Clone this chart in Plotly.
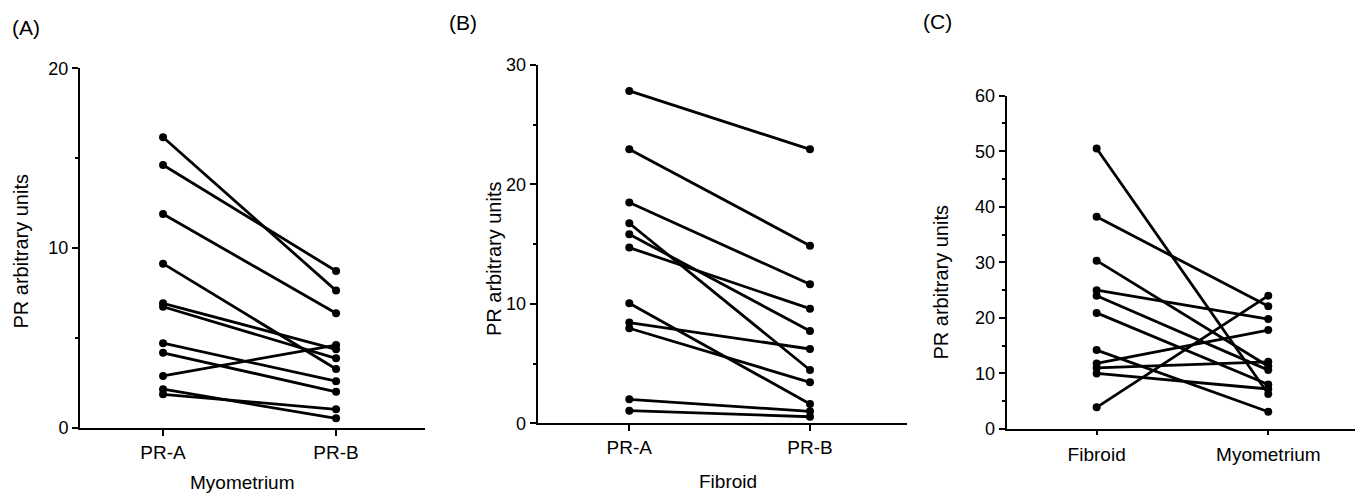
import plotly.graph_objects as go

# page body has an 8px margin; the figure is sized to fill the rest of the window
OFF = 8
W, H = 1364 - OFF, 495 - OFF

# ---------------- data ----------------
groups_a = ["PR-A", "PR-B"]
a_pra = [16.16, 14.62, 11.89, 9.13, 6.92, 6.73, 4.70, 4.17, 2.88, 2.14, 1.86]
a_prb = [7.63, 8.72, 6.37, 3.27, 4.36, 3.86, 2.59, 2.00, 4.60, 0.52, 1.02]

groups_b = ["PR-A", "PR-B"]
b_pra = [27.83, 22.94, 18.48, 16.75, 15.83, 14.71, 10.05, 8.43, 7.96, 2.01, 1.06]
b_prb = [22.94, 14.87, 11.64, 4.46, 7.73, 9.60, 1.62, 6.22, 3.43, 1.00, 0.55]

groups_c = ["Fibroid", "Myometrium"]
c_fibroid = [50.5, 38.2, 30.3, 25.0, 24.0, 20.9, 14.2, 11.8, 11.0, 10.0, 3.9]
c_myometrium = [6.3, 22.1, 11.3, 19.8, 10.6, 8.0, 3.1, 17.8, 12.1, 7.2, 24.0]

a_yticks = [0, 10, 20]
b_yticks = [0, 10, 20, 30]
c_yticks = [0, 10, 20, 30, 40, 50, 60]

y_title = "PR arbitrary units"
panel_letters = ["(A)", "(B)", "(C)"]
x_titles = ["Myometrium", "Fibroid"]

# ---------------- figure ----------------
fig = go.Figure()
FONT = "Liberation Sans, Arial, Helvetica, sans-serif"


def px_x(p):
    return (p - OFF) / W


def px_y(p):
    return 1 - (p - OFF) / H


panels = [
    dict(groups=groups_a, left=a_pra, right=a_prb, xa="x", ya="y"),
    dict(groups=groups_b, left=b_pra, right=b_prb, xa="x2", ya="y2"),
    dict(groups=groups_c, left=c_fibroid, right=c_myometrium, xa="x3", ya="y3"),
]

for p in panels:
    for l, r in zip(p["left"], p["right"]):
        fig.add_trace(go.Scatter(
            x=[0, 1], y=[l, r], mode="lines+markers",
            line=dict(color="black", width=2.8),
            marker=dict(color="black", size=8),
            xaxis=p["xa"], yaxis=p["ya"], showlegend=False, hoverinfo="skip",
        ))

axis_common = dict(
    showline=True, linecolor="black", linewidth=2, showgrid=False,
    zeroline=False, ticks="outside", tickcolor="black", tickwidth=1.5,
    color="black", automargin=False,
)

# geometry in reference-window pixels
geo = [
    # x_left, x_right, y_bottom, y_top, xrange, yrange, yticks, groups, minor
    (80, 425, 427.7, 68.3, [-0.48, 1.514], [0, 20], a_yticks, groups_a, 5),
    (537.7, 907, 423.3, 65, [-0.507, 1.537], [0, 30], b_yticks, groups_b, 5),
    (1006.7, 1355, 429, 95.7, [-0.524, 1.505], [0, 60], c_yticks, groups_c, 5),
]

layout = dict(
    template="none",
    width=W, height=H, margin=dict(l=0, r=0, t=0, b=0, pad=0),
    paper_bgcolor="white", plot_bgcolor="white",
    font=dict(family=FONT, color="black"),
    showlegend=False,
)

for i, (xl, xr, yb, yt, xrng, yrng, yticks, groups, minor) in enumerate(geo):
    sfx = "" if i == 0 else str(i + 1)
    layout["xaxis" + sfx] = dict(
        axis_common, domain=[px_x(xl), px_x(xr)], range=xrng,
        anchor="y" + sfx, tickmode="array", tickvals=[0, 1], ticktext=groups,
        ticklen=(6 if i < 2 else 4), tickfont=dict(size=19, family=FONT),
        ticklabelstandoff=(3 if i == 2 else 0),
    )
    layout["yaxis" + sfx] = dict(
        axis_common, domain=[px_y(yb), px_y(yt)], range=yrng,
        anchor="x" + sfx, tickmode="array", tickvals=yticks,
        ticklen=6, tickfont=dict(size=18, family=FONT),
        minor=dict(dtick=minor, tick0=0, ticks="outside", ticklen=3,
                   tickwidth=1.5, tickcolor="black", showgrid=False),
    )

fig.update_layout(**layout)

annotations = []
# panel letters
for letter, (cx, cy) in zip(panel_letters, [(26, 28), (463, 23), (937, 21)]):
    annotations.append(dict(
        text=letter, x=px_x(cx), y=px_y(cy), xref="paper", yref="paper",
        showarrow=False, font=dict(size=21, family=FONT),
        xanchor="center", yanchor="middle",
    ))
# y-axis titles
for (cx, cy) in [(20, 251.5), (493.5, 258.5), (940, 282.5)]:
    annotations.append(dict(
        text=y_title, x=px_x(cx), y=px_y(cy), xref="paper", yref="paper",
        showarrow=False, textangle=-90, font=dict(size=20, family=FONT),
        xanchor="center", yanchor="middle",
    ))
# x-axis titles
for t, (cx, cy) in zip(x_titles, [(242.5, 482), (727.5, 481)]):
    annotations.append(dict(
        text=t, x=px_x(cx), y=px_y(cy), xref="paper", yref="paper",
        showarrow=False, font=dict(size=19, family=FONT),
        xanchor="center", yanchor="middle",
    ))

fig.update_layout(annotations=annotations)
fig.write_html("out.html")
